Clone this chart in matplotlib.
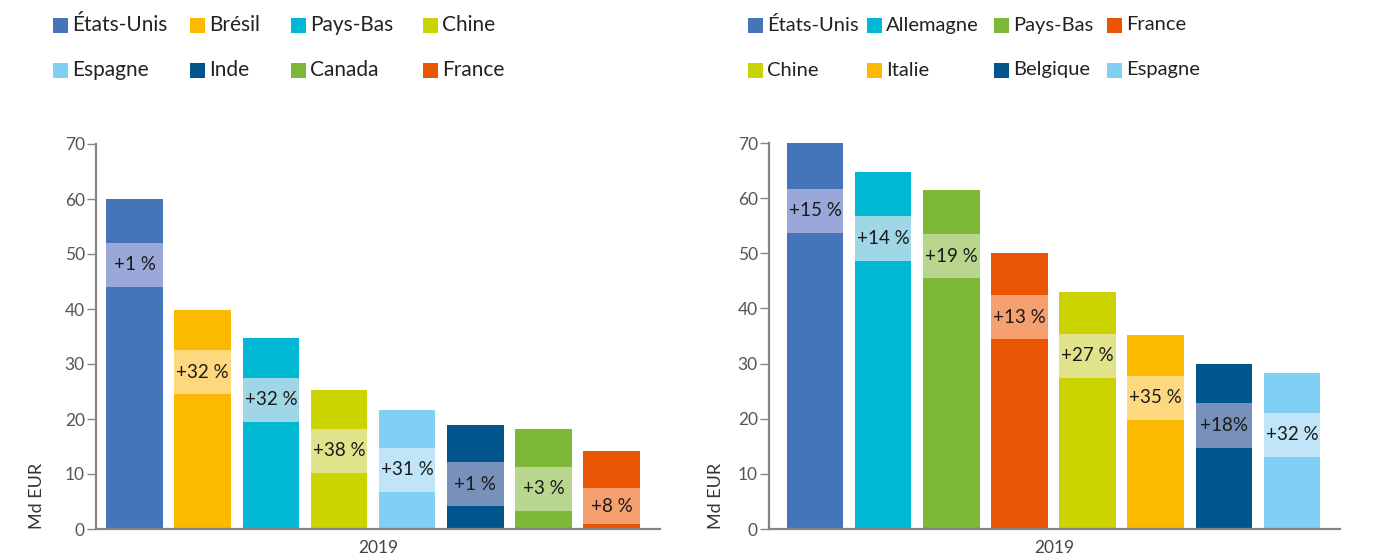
import matplotlib.pyplot as plt
from matplotlib.patches import Rectangle

plt.rcParams['font.family'] = ['Lato', 'DejaVu Sans']

# Left panel
left_countries = ["États-Unis", "Brésil", "Pays-Bas", "Chine", "Espagne", "Inde", "Canada", "France"]
left_values = [60.0, 39.9, 34.8, 25.2, 21.7, 19.0, 18.1, 14.1]
left_labels = ["+1 %", "+32 %", "+32 %", "+38 %", "+31 %", "+1 %", "+3 %", "+8 %"]
left_colors = ["#4674B8", "#FBBA00", "#00B8D4", "#CBD300", "#80CFF5", "#00558C", "#7DB838", "#EA5504"]
left_light = ["#99A8D8", "#FED87F", "#9FD7E7", "#E0E38A", "#C0E5F9", "#7891BA", "#B9D68F", "#F5A06E"]

# Right panel
right_countries = ["États-Unis", "Allemagne", "Pays-Bas", "France", "Chine", "Italie", "Belgique", "Espagne"]
right_values = [70.0, 64.8, 61.5, 50.1, 42.9, 35.1, 29.9, 28.2]
right_labels = ["+15 %", "+14 %", "+19 %", "+13 %", "+27 %", "+35 %", "+18%", "+32 %"]
right_colors = ["#4674B8", "#00B8D4", "#7DB838", "#EA5504", "#CBD300", "#FBBA00", "#00558C", "#80CFF5"]
right_light = ["#99A8D8", "#9FD7E7", "#B9D68F", "#F5A06E", "#E0E38A", "#FED87F", "#7891BA", "#C0E5F9"]

year = "2019"
yticks = [0, 10, 20, 30, 40, 50, 60, 70]

W, H = 1385, 558
fig = plt.figure(figsize=(W / 100, H / 100), dpi=100)


def draw_panel(rect, values, labels, colors, light, xlim, ylab_x):
    ax = fig.add_axes(rect)
    x = list(range(len(values)))
    width = 0.83
    ax.bar(x, values, width=width, color=colors, zorder=2)
    # label boxes sitting a little below the bar top
    for xi, v, lab, lc in zip(x, values, labels, light):
        top = v - (6.3 + 0.028 * v)
        bot = max(top - 8.0, 0.9)
        ax.add_patch(Rectangle((xi - width / 2, bot), width, top - bot,
                               facecolor=lc, edgecolor='none', zorder=3))
        ax.text(xi, (top + bot) / 2, lab, ha='center', va='center', fontsize=13.5,
                color='#1a1a1a', zorder=4)
    ax.set_xlim(xlim)
    ax.set_ylim(0, 70)
    ax.set_yticks(yticks)
    ax.set_xticks([])
    for s in ['top', 'right']:
        ax.spines[s].set_visible(False)
    for s in ['left', 'bottom']:
        ax.spines[s].set_color('#858585')
        ax.spines[s].set_linewidth(1.6)
    ax.tick_params(axis='y', length=6.5, width=1.0, color='#858585',
                   labelsize=12.5, labelcolor='#555555', pad=1.5)
    ax.text(0.5, -0.05, year, transform=ax.transAxes, ha='center', va='center',
            fontsize=12.5, color='#444444')
    ax.text(ylab_x, 0.0, "Md EUR", transform=ax.transAxes, rotation=90,
            ha='center', va='bottom', fontsize=13, color='#333333')
    return ax


def draw_legend(names, colors, patch_xs, row_ys, size):
    for i, (name, c) in enumerate(zip(names, colors)):
        px = patch_xs[i % 4]
        py = row_ys[i // 4]
        fig.patches.append(Rectangle((px / W, 1 - (py + 7.5) / H), 15 / W, 15 / H,
                                     facecolor=c, edgecolor='none',
                                     transform=fig.transFigure, figure=fig))
        fig.text((px + 19) / W, 1 - py / H, name, ha='left', va='center',
                 fontsize=size, color='#222222')


bottom = (H - 529) / H
draw_panel([96 / W, bottom, 564 / W, (529 - 144) / H], left_values, left_labels,
           left_colors, left_light, (-0.565, 7.71), -0.105)
draw_panel([769 / W, bottom, 571 / W, (529 - 143) / H], right_values, right_labels,
           right_colors, right_light, (-0.675, 7.705), -0.093)

draw_legend(left_countries, left_colors, [53, 190, 291, 423], [25, 70], 15)
draw_legend(right_countries, right_colors, [748, 867, 994, 1107], [25, 70], 14.5)

plt.savefig("out.png", dpi=100)
